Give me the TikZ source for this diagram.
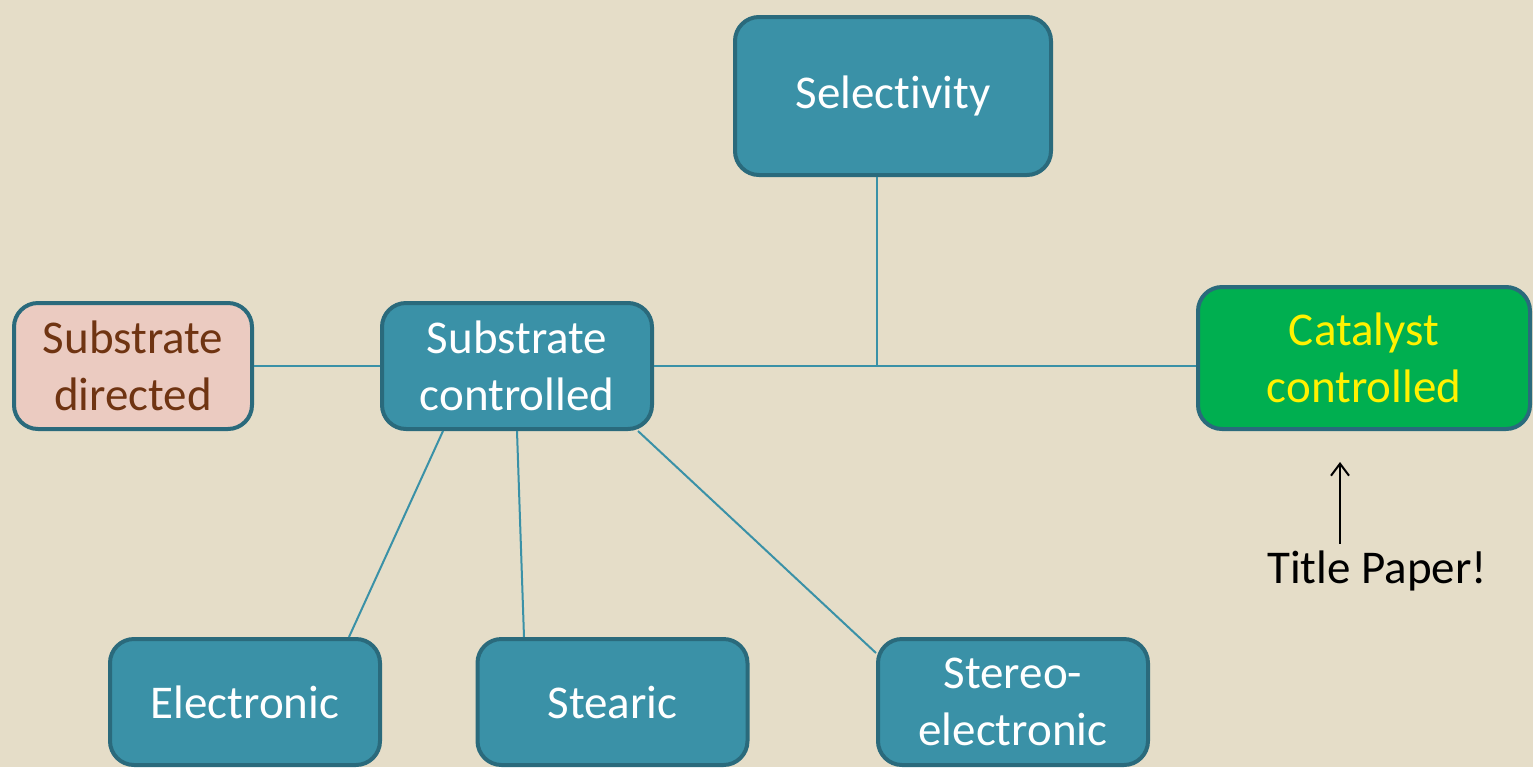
\documentclass[tikz,border=0pt]{standalone}
\usepackage{fontspec}
\setmainfont{Carlito}[Ligatures=NoCommon]
\usetikzlibrary{arrows.meta,positioning}
\definecolor{paper}{HTML}{E5DDC8}
\definecolor{boxfill}{HTML}{3A91A7}
\definecolor{rim}{HTML}{2A6A7C}
\definecolor{blush}{HTML}{EBCBC1}
\definecolor{rust}{HTML}{6F3412}
\definecolor{leaf}{HTML}{00AF50}

\begin{document}
\begin{tikzpicture}[x=0.5pt,y=-0.5pt, font=\fontsize{23.5}{28.5}\selectfont,
 box/.style={draw=rim,line width=2pt,rounded corners=12pt,fill=boxfill,text=white,align=center,inner sep=0pt,minimum width=135pt,minimum height=63pt},
 link/.style={draw=boxfill,line width=1pt},
 tip/.style={-{Straight Barb[length=6pt,width=9pt]},line width=1pt,black}]
\fill[paper] (0,0) rectangle (1533,767);
\useasboundingbox (0,0) rectangle (1533,767);
\node[box, minimum width=158pt, minimum height=79pt] (sel) at (893,96) {Selectivity};
\node[box] (sctl) at (517,366) {Substrate\\controlled};
\node[box, fill=blush, text=rust, minimum width=119pt, left=63pt of sctl] (sdir) {Substrate\\directed};
\node[box, fill=leaf, text=yellow, minimum width=166pt, minimum height=71pt] (cat) at (1364,358) {Catalyst\\controlled};
\node[box] (elec) at (245,702) {Electronic};
\node[box] (stea) at (612.5,702) {Stearic};
\node[box] (ster) at (1013,702) {Stereo-\\electronic};
\node[inner sep=0pt] (note) at (1377,571) {Title Paper!};
\coordinate (j) at (877,366);
% links
\draw[link] (sdir.east) -- (sctl.west);
\draw[link] (sctl.east) -- (sctl.east -| cat.west);
\draw[link] (sel.south -| j) -- (j);
\draw[link] ([xshift=-37pt]sctl.south) -- ([xshift=52pt]elec.north);
\draw[link] (sctl.south) -- ([xshift=-44.25pt]stea.north);
\draw[link] ([xshift=60.5pt]sctl.south) -- ([yshift=24.5pt]ster.west);
\draw[tip] ([xshift=-18.5pt,yshift=3.5pt]note.north) -- ([xshift=-12pt,yshift=-15.5pt]cat.south);
\end{tikzpicture}
\end{document}
